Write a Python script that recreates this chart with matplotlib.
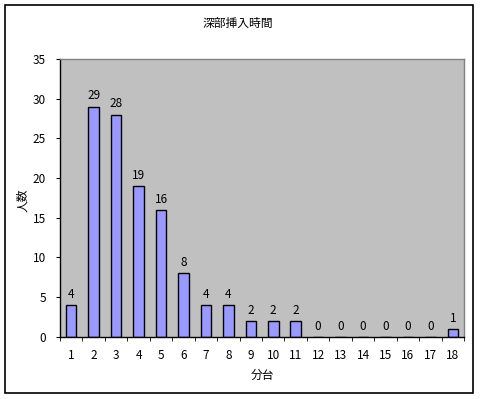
import matplotlib
matplotlib.use('Agg')
import matplotlib.pyplot as plt
from matplotlib.patches import Rectangle
import numpy as np

plt.rcParams['font.family'] = ['Noto Sans CJK JP', 'DejaVu Sans']

categories = [str(i) for i in range(1, 19)]
counts = [4, 29, 28, 19, 16, 8, 4, 4, 2, 2, 2, 0, 0, 0, 0, 0, 0, 1]
title = '深部挿入時間'
xlabel = '分台'
ylabel = '人数'

fig = plt.figure(figsize=(4.8, 3.99), dpi=100)
fig.patch.set_facecolor('white')
fig.patches.append(Rectangle((5 / 480, 1 - 393 / 399), 468 / 480, 388 / 399,
                             transform=fig.transFigure, fill=False,
                             edgecolor='black', linewidth=1.2))

ax = fig.add_axes([0.125, 0.156, 0.8417, 0.696])
ax.set_facecolor('#C0C0C0')
for s in ax.spines.values():
    s.set_color('#808080')
    s.set_linewidth(1)
ax.spines['left'].set_color('black')
ax.spines['bottom'].set_color('black')

x = np.arange(len(counts))
bars = ax.bar(x, counts, width=0.47, color='#9999FF', edgecolor='black', linewidth=1)
for b, v in zip(bars, counts):
    ax.annotate(str(v), (b.get_x() + b.get_width() / 2, v), xytext=(0, 3),
                textcoords='offset points', ha='center', va='bottom', fontsize=8.5)

ax.set_xlim(-0.5, len(counts) - 0.5)
ax.set_ylim(0, 35)
ax.set_yticks(range(0, 36, 5))
ax.set_xticks(x)
ax.set_xticklabels(categories)
ax.set_xticks(np.arange(-0.5, len(counts), 1), minor=True)
ax.tick_params(axis='x', which='major', length=0, pad=9, labelsize=8.5)
ax.tick_params(axis='x', which='minor', length=3, direction='out')
ax.tick_params(axis='y', length=3, direction='out', pad=7, labelsize=8.5)

fig.text(238 / 480, 1 - 23 / 399, title, ha='center', va='center', fontsize=8.5)
fig.text(262 / 480, 1 - 375 / 399, xlabel, ha='center', va='center', fontsize=8.5)
fig.text(23 / 480, 1 - 200 / 399, ylabel, ha='center', va='center', rotation=90, fontsize=8.5)

fig.savefig('out.png', dpi=100)
